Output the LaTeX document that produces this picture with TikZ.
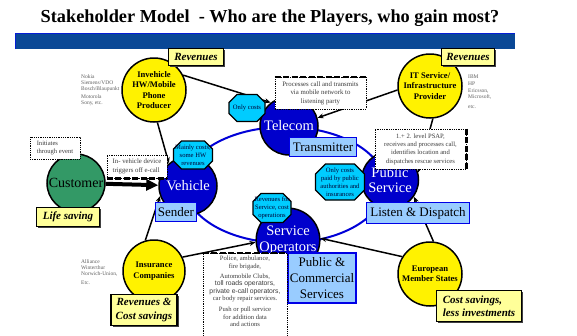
\documentclass[tikz,border=0pt]{standalone}
\usepackage{fontspec}
\setmainfont{Liberation Serif}
\newfontfamily\sansf{Liberation Sans}
\usetikzlibrary{arrows.meta,shadows}

\definecolor{barblue}{RGB}{10,72,150}
\definecolor{hubblue}{RGB}{0,0,204}
\definecolor{ringblue}{RGB}{0,0,215}
\definecolor{paleblue}{RGB}{153,204,255}
\definecolor{boxedge}{RGB}{0,0,230}
\definecolor{octcyan}{RGB}{0,204,255}
\definecolor{custgreen}{RGB}{51,153,102}
\definecolor{notegray}{RGB}{60,60,60}
\definecolor{namegray}{RGB}{95,95,95}
\definecolor{labelyellow}{RGB}{255,255,153}

\newcommand{\fsz}[2]{\fontsize{#1}{#2}\selectfont}
% octagonal tag: centre x, centre y, width, height, corner cut
\newcommand{\costtag}[5]{%
  \filldraw[costshape] (#1-#3/2+#5,#2-#4/2) -- ++(#3-2*#5,0) -- ++(#5,#5)
    -- ++(0,#4-2*#5) -- ++(-#5,#5) -- ++(-#3+2*#5,0) -- ++(-#5,-#5)
    -- ++(0,-#4+2*#5) -- cycle;}

\tikzset{
  hub/.style={circle, draw=black, line width=1.5pt, fill=hubblue, text=white,
    inner sep=0pt, minimum size=#1, font=\fsz{14.5}{15.5}, align=center},
  player/.style={circle, draw=black, line width=1.5pt, fill=yellow,
    inner sep=0pt, minimum size=#1, font=\bfseries\fsz{8.6}{10.3}, align=center},
  role/.style={draw=boxedge, line width=1.3pt, fill=paleblue, inner sep=0pt,
    font=\fsz{13}{16}, align=center},
  gain/.style={draw=black, line width=1.3pt, fill=labelyellow, inner sep=0pt,
    font=\bfseries\itshape\fsz{11}{13.5},
    drop shadow={shadow xshift=1.5pt, shadow yshift=-1.5pt, fill=black!75, opacity=1}},
  costshape/.style={draw=black, line width=1.3pt, fill=octcyan, line join=round},
  costtext/.style={font=\fsz{6.6}{7.9}, text=black!80!blue, align=center, inner sep=0pt},
  note/.style={draw=black, densely dotted, line width=0.8pt, fill=white,
    inner sep=0pt, font=\fsz{6.8}{8.5}, text=notegray, align=center},
  noteedge/.style={line width=2.2pt, dash pattern=on 6pt off 2.5pt},
  names/.style={font=\fsz{5.5}{6.2}, text=namegray, align=left, inner sep=0pt,
    anchor=north west},
  link/.style={line width=1.5pt, -{Stealth[length=6pt,width=5pt]}},
}

\begin{document}
\begin{tikzpicture}[x=1pt,y=-1pt]
\useasboundingbox (0,0) rectangle (577,335);

% heading and banner
\node[font=\bfseries\fsz{18.3}{20}, anchor=base, inner sep=0pt] (title) at (270,22)
  {Stakeholder Model\ \ - Who are the Players, who gain most?};
\fill[barblue] (15,33) rectangle (515,49);
\draw[blue!60!barblue, line width=0.6pt] (15,49) -- (15,33) -- (515,33);

% the e-call ring
\draw[ringblue, line width=2pt] (285,185) ellipse [x radius=100, y radius=58];

% stakeholders
\node[player=64pt] (producer) at (154,90) {Invehicle\\HW/Mobile\\Phone\\Producer};
\node[player=64pt] (it) at (430,86) {IT Service/\\Infrastructure\\Provider};
\node[player=62pt] (ins) at (154,271) {Insurance\\Companies};
\node[player=64pt] (eu) at (430,274) {European\\Member States};

% ring members
\node[hub=58pt] (telecom) at (289,126) {Telecom};
\node[hub=58pt] (vehicle) at (188,186) {Vehicle};
\node[hub=57pt] (pubserv) at (390,180) {Public\\Service};
\node[hub=60pt] (so) at (288,240) {Service\\Operators};
\node[circle, draw=black, line width=1.5pt, fill=custgreen, inner sep=0pt,
  minimum size=58pt, font=\fsz{14}{15}] (customer) at (76,183) {Customer};

% relations
\draw[line width=4pt, -{Triangle[length=12pt,width=11pt]}] (customer) -- (vehicle);
\draw[link] (producer.-84) -- (vehicle.130);
\draw[link] (producer.27) -- (telecom.128);
\draw[link] (it.187) -- (telecom.16);
\draw[link] (it.-85) -- (pubserv.15);
\draw[link] (eu.84) -- (pubserv.-35);
\draw[link] (eu.148) -- (so.3);
\draw[link] (ins.26) -- (so.184);
\draw[link] (ins.106) -- (vehicle.200);

% roles
\node[role, minimum width=67pt, minimum height=19pt] (transmitter) at (323,147) {Transmitter};
\node[role, minimum width=41pt, minimum height=19pt] (sender) at (176,212) {Sender};
\node[role, minimum width=103pt, minimum height=21pt] (listen) at (418,213) {Listen \& Dispatch};
\node[role, minimum width=68pt, minimum height=50pt] (pubcom) at (322,278) {Public \&\\Commercial\\Services};

% cost / revenue tags
\costtag{247}{108}{36}{27}{8}
\node[costtext] (octtel) at (247,108) {Only costs};
\costtag{193}{155}{39}{28}{8}
\node[costtext] (octveh) at (193,155) {Mainly costs,\\some HW\\revenues};
\costtag{340}{182}{49}{36}{10}
\node[costtext] (octpub) at (340,182) {Only costs\\paid by public\\authorities and\\insurances};
\costtag{272}{208}{38}{29}{8}
\node[costtext] (octso) at (272,208) {Revenues for\\Service, cost\\operations};

% gains
\node[gain, minimum width=55pt, minimum height=17pt] (rev1) at (196,57) {Revenues};
\node[gain, minimum width=53pt, minimum height=17pt] (rev2) at (468,57) {Revenues};
\node[gain, minimum width=63pt, minimum height=19pt] (lifesave) at (68,217) {Life saving};
\node[gain, minimum width=66pt, minimum height=31pt, align=center] (revcost) at (144,310) {Revenues \&\\Cost savings};
\node[gain, minimum width=85pt, minimum height=31pt, align=left] (costsave) at (479,306) {Cost savings,\\less investments};

% explanatory notes
\node[note, minimum width=91pt, minimum height=32pt] (cproc) at (320.5,93)
  {Processes call and transmits\\via mobile network to\\listening party};
\draw[noteedge] (cproc.north west) -- (cproc.north east);
\node[note, minimum width=50pt, minimum height=22pt, align=left, font=\fsz{6.6}{7.6}] (cinit) at (55,148)
  {Initiates\\through event};
\node[note, minimum width=60pt, minimum height=23pt, align=left] (cdev) at (137,166.5)
  {In- vehicle device\\triggers off e-call};
\draw[noteedge] (cdev.south west) -- (cdev.south east);
\node[note, minimum width=91pt, minimum height=40pt, font=\fsz{6.6}{8.3}] (cpsap) at (420.5,149)
  {1.+ 2. level PSAP,\\receives and processes call,\\identifies location and\\dispatches rescue services};
\draw[noteedge] (cpsap.north east) -- (cpsap.south east);
\node[note, minimum width=84pt, minimum height=92pt] (cserv) at (245,299) {};
\draw[noteedge] (cserv.north west) -- (cserv.north east);
\node[anchor=north, inner sep=0pt, align=center, text=notegray, font=\fsz{6.6}{7.6}]
  (cservtext) at ([yshift=-3.5pt]cserv.north)
  {Police, ambulance,\\fire brigade,\\[2pt]Automobile Clubs,\\{\sansf\fsz{6.8}{7.6}toll roads operators,}\\
   {\sansf\fsz{6.8}{7.6}private e-call operators,}\\car body repair services.\\[3pt]Push or pull service\\
   for addition data\\and actions};

% company names
\node[names] (nokia) at (81,74) {Nokia\\Siemens/VDO\\Bosch/Blaupunkt\\[1.5pt]Motorola\\Sony, etc.};
\node[names] (ibm) at (468,75) {IBM\\HP\\[1.5pt]Ericsson,\\Microsoft,\\[3pt]etc.};
\node[names] (alliance) at (81,259) {Alliance\\Winterthur\\Norwich-Union,\\[2.5pt]Etc.};
\end{tikzpicture}
\end{document}
